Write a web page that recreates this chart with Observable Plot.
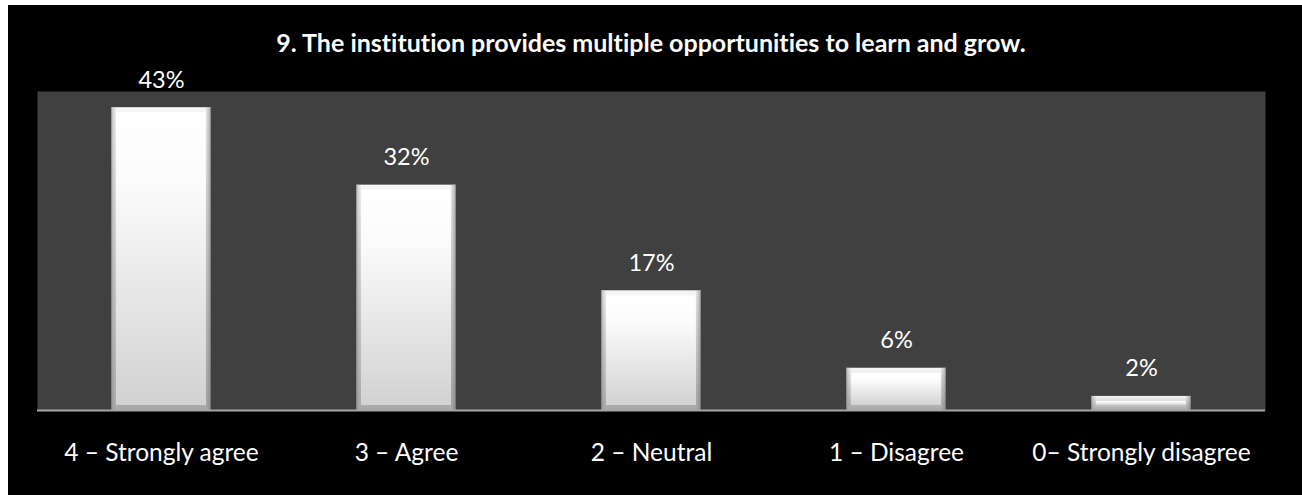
<!DOCTYPE html>
<html><head><meta charset="utf-8">
<script src="https://cdn.jsdelivr.net/npm/d3@7"></script>
<script src="https://cdn.jsdelivr.net/npm/@observablehq/plot@0.6"></script>
<style>
html,body{margin:0;padding:0;background:#fff;}
#wrap{position:absolute;left:8px;top:5px;width:1294px;height:490px;background:#000;overflow:hidden;}
#title{box-sizing:border-box;height:55px;padding:25px 37px 0 29px;text-align:center;color:#fff;font-family:Lato;font-weight:bold;font-size:25px;line-height:25px;white-space:nowrap;font-variant-ligatures:none;}
#chart svg{display:block;font-variant-ligatures:none;}
</style></head><body>
<div id="wrap"><div id="title">9. The institution provides multiple opportunities to learn and grow.</div><div id="chart"></div></div>
<script>
const categories = ["4 – Strongly agree", "3 – Agree", "2 – Neutral", "1 – Disagree", "0– Strongly disagree"];
const values = [43, 32, 17, 6, 2];
const valueLabels = ["43%", "32%", "17%", "6%", "2%"];

const data = categories.map((c, i) => ({category: c, value: values[i], label: valueLabels[i]}));

const plot = Plot.plot({
  width: 1294, height: 435,
  marginTop: 31, marginBottom: 85, marginLeft: 29, marginRight: 37,
  style: {background: "transparent", color: "#fff", fontFamily: "Lato", fontSize: "24px"},
  x: {domain: categories, paddingInner: 0.59, paddingOuter: 0.295, label: null},
  y: {domain: [0, 45.3], label: null, axis: null},
  marks: [
    Plot.frame({fill: "#404040", stroke: "none"}),
    Plot.barY(data, {x: "category", y: "value", fill: "url(#barBase)"}),
    Plot.barY(data, {x: "category", y: "value", fill: "url(#barFace)", insetLeft: 5, insetRight: 5, insetTop: 5, insetBottom: 5}),
    Plot.barY(data, {x: "category", y: "value", fill: "url(#barSide)"}),
    Plot.ruleY([0], {stroke: "#a6a6a6", strokeWidth: 2}),
    Plot.text(data, {x: "category", y: "value", text: "label", lineAnchor: "bottom", dy: -20, fill: "#fff", fontSize: 23.5}),
    Plot.axisX({tickSize: 0, tickPadding: 33, fontSize: 24.5, fill: "#fff"})
  ]
});

d3.select(plot).insert("defs", ":first-child").html(`
  <linearGradient id="barBase" x1="0" y1="0" x2="0" y2="1">
    <stop offset="0" stop-color="#f6f6f6"/>
    <stop offset="1" stop-color="#a9a9a9"/>
  </linearGradient>
  <linearGradient id="barFace" x1="0" y1="0" x2="0" y2="1">
    <stop offset="0" stop-color="#ffffff"/>
    <stop offset="0.25" stop-color="#fbfbfb"/>
    <stop offset="1" stop-color="#d2d2d2"/>
  </linearGradient>
  <linearGradient id="barSide" x1="0" y1="0" x2="1" y2="0">
    <stop offset="0" stop-color="#5a5a5a" stop-opacity="0.8"/>
    <stop offset="0.012" stop-color="#8a8a8a" stop-opacity="0.45"/>
    <stop offset="0.05" stop-color="#b0b0b0" stop-opacity="0.1"/>
    <stop offset="0.06" stop-color="#ffffff" stop-opacity="0"/>
    <stop offset="0.94" stop-color="#ffffff" stop-opacity="0"/>
    <stop offset="0.95" stop-color="#909090" stop-opacity="0.15"/>
    <stop offset="0.988" stop-color="#7a7a7a" stop-opacity="0.5"/>
    <stop offset="1" stop-color="#4a4a4a" stop-opacity="0.8"/>
  </linearGradient>
`);

document.getElementById("chart").appendChild(plot);
</script>
</body></html>
